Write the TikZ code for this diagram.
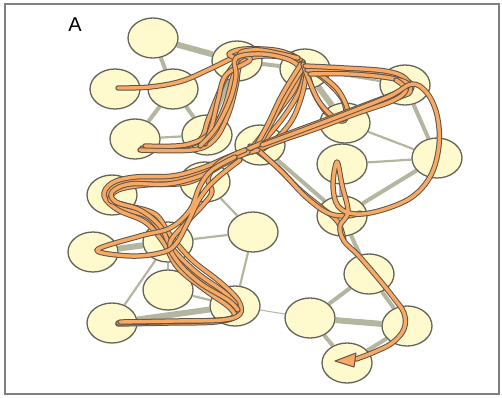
\documentclass[tikz,border=0pt]{standalone}
\usepackage{fontspec}
\setmainfont{Liberation Sans}
\usetikzlibrary{shapes.geometric,backgrounds}
\definecolor{nodefill}{RGB}{255,250,205}
\definecolor{nodeline}{RGB}{100,100,90}
\definecolor{edgecol}{RGB}{180,182,160}
\definecolor{trajfill}{RGB}{248,170,100}
\definecolor{trajline}{RGB}{95,82,72}
\definecolor{framecol}{RGB}{128,128,128}
\begin{document}
\begin{tikzpicture}[x=1pt,y=-1pt,
  res/.style={ellipse, draw=nodeline, line width=1.3pt, fill=nodefill, minimum width=50pt, minimum height=40pt, inner sep=0pt},
  ethick/.style={draw=edgecol, line width=6pt},
  emed/.style={draw=edgecol, line width=4pt},
  ethin/.style={draw=edgecol, line width=2.2pt},
  evthin/.style={draw=edgecol, line width=1pt},
  traj/.style={draw=trajline, line width=1pt, double=trajfill, double distance=3.4pt, line cap=round, line join=round},
  sm/.style={smooth, tension=0.6}
]
\useasboundingbox (0,0) rectangle (502,397);
\draw[framecol, line width=2pt] (5,4) rectangle (499,394);
\node[font=\fontsize{20}{20}\selectfont] (lab) at (75,25) {A};

% residues
\node[res] (n1) at (153,38) {};
\node[res] (n2) at (237,61) {};
\node[res] (n3) at (115,89) {};
\node[res] (n4) at (173,89) {};
\node[res] (n5) at (135,139) {};
\node[res] (n6) at (207,135) {};
\node[res] (n7) at (305,69) {};
\node[res] (n8) at (405,85) {};
\node[res] (n9) at (345,123) {};
\node[res] (n10) at (437,158) {};
\node[res] (n11) at (342,164) {};
\node[res] (n12) at (260,145) {};
\node[res] (n13) at (342,216) {};
\node[res] (n14) at (369,274) {};
\node[res] (n15) at (310,318) {};
\node[res] (n16) at (407,326) {};
\node[res] (n17) at (347,363) {};
\node[res] (n18) at (253,232) {};
\node[res] (n19) at (93,252) {};
\node[res] (n20) at (168,242) {};
\node[res] (n21) at (168,290) {};
\node[res] (n22) at (112,323) {};
\node[res] (n23) at (235,306) {};
\node[res] (n24) at (112,195) {};
\node[res] (n25) at (205,182) {};

% contacts
\begin{scope}[on background layer]
\draw[ethick] (n1) -- (n2);
\draw[emed] (n1) -- (n4);
\draw[emed] (n4) -- (n5);
\draw[emed] (n4) -- (n6);
\draw[ethin] (n5) -- (n6);
\draw[emed] (n6) -- (n2);
\draw[emed] (n2) -- (n7);
\draw[ethick] (n7) -- (n9);
\draw[ethin] (n7) -- (n8);
\draw[emed] (n8) -- (n10);
\draw[ethin] (n9) -- (n10);
\draw[ethin] (n11) -- (n10);
\draw[emed] (n10) -- (n13);
\draw[ethick] (n11) -- (n13);
\draw[emed] (n12) -- (n13);
\draw[emed] (n13) -- (n14);
\draw[emed] (n14) -- (n15);
\draw[emed] (n14) -- (n16);
\draw[ethick] (n15) -- (n16);
\draw[emed] (n15) -- (n17);
\draw[emed] (n16) -- (n17);
\draw[evthin] (n23) -- (n15);
\draw[ethin] (n25) -- (n18);
\draw[ethin] (n20) -- (n18);
\draw[ethin] (n18) -- (n23);
\draw[ethick] (n19) -- (n20);
\draw[ethin] (n20) -- (n21);
\draw[ethin] (n20) -- (n22);
\draw[ethick] (n22) -- (n23);
\draw[ethin] (n21) -- (n23);
\end{scope}

% trajectories
\draw[traj] plot[sm] coordinates {(118,88) (150,87) (182,81) (212,68) (238,56) (265,51) (292,55) (306,68)};
\draw[traj] plot[sm] coordinates {(142,148) (178,147) (200,140) (208,120) (218,95) (230,70) (245,57) (270,53) (295,57) (307,70)};
\draw[traj] plot[sm] coordinates {(145,146) (185,145) (210,133) (224,108) (232,80) (237,61) (229,54) (245,49) (280,51) (303,62)};
\draw[traj] plot[sm] coordinates {(140,150) (192,150) (214,140) (228,115) (236,86) (240,65) (254,57) (282,57) (304,66)};
\draw[traj] plot[sm] coordinates {(205,144) (212,125) (218,100) (226,75) (250,60) (240,53) (260,50) (298,58)};
\draw[traj] plot[sm] coordinates {(200,146) (216,128) (230,100) (236,76) (236,58) (262,54) (290,60) (302,70)};

\draw[traj] plot[sm] coordinates {(306,68) (300,90) (285,115) (268,136) (255,150)};
\draw[traj] plot[sm] coordinates {(303,62) (295,88) (278,112) (262,135) (250,150)};
\draw[traj] plot[sm] coordinates {(307,70) (302,95) (292,120) (275,140) (258,152)};
\draw[traj] plot[sm] coordinates {(304,66) (288,92) (274,118) (262,140)};
\draw[traj] plot[sm] coordinates {(301,64) (282,95) (268,124) (256,146)};

\draw[traj] plot[sm] coordinates {(306,68) (315,95) (330,116) (345,120) (343,100) (325,80) (310,70)};
\draw[traj] plot[sm] coordinates {(303,64) (318,100) (337,119) (348,113) (338,90) (318,73)};
\draw[traj] plot[sm] coordinates {(307,70) (340,71) (378,72) (400,77) (412,86) (402,96) (368,108) (330,122) (292,136) (260,147)};
\draw[traj] plot[sm] coordinates {(305,66) (345,68) (385,71) (405,78) (410,92) (395,98) (360,111) (322,125) (285,139) (255,150)};
\draw[traj] plot[sm] coordinates {(310,74) (350,74) (390,78) (408,84) (398,92) (365,105) (328,119) (290,133) (262,144)};
\draw[traj] plot[sm] coordinates {(396,80) (406,90) (392,101) (355,114) (318,128) (280,141) (252,152)};

\draw[traj] plot[sm] coordinates {(250,146) (275,165) (300,190) (322,208) (338,222) (344,241)};
\draw[traj] plot[sm] coordinates {(258,150) (282,172) (306,197) (328,213) (347,216) (360,213)};

\draw[traj] plot[sm] coordinates {(258,150) (232,158) (205,170) (175,180) (140,180) (115,186) (107,198) (120,208) (148,217) (165,238) (183,263) (210,285) (233,303) (236,316) (215,322) (170,323) (118,324)};
\draw[traj] plot[sm] coordinates {(252,148) (228,157) (202,168) (172,176) (135,177) (112,183) (104,196) (118,210) (145,222) (163,242) (178,268) (205,290) (230,308) (232,318) (200,321) (150,322) (118,323)};
\draw[traj] plot[sm] coordinates {(262,143) (236,155) (210,172) (185,183) (145,185) (118,190) (110,200) (125,205) (155,214) (170,235) (192,260) (220,282) (238,300) (240,314) (222,320) (175,321) (120,322)};
\draw[traj] plot[sm] coordinates {(248,152) (224,164) (200,176) (168,184) (130,184) (112,192) (116,202) (140,210) (160,226) (172,248) (196,272) (224,292) (236,304)};
\draw[traj] plot[sm] coordinates {(245,150) (220,162) (208,178) (212,192) (203,205) (187,222) (170,243) (178,262) (200,283) (228,300) (238,310)};
\draw[traj] plot[sm] coordinates {(235,157) (212,170) (200,186) (190,210) (170,228) (140,236) (97,250) (130,256) (160,253) (175,245) (188,222) (200,198) (215,180) (240,160)};

\draw[traj] plot[sm] coordinates {(262,145) (300,131) (345,114) (390,96) (412,84) (427,93) (437,115) (439,145) (431,175) (412,197) (382,210) (355,214) (338,206) (333,185) (337,162) (342,185) (348,212) (340,226) (344,241) (358,255) (377,277) (393,297) (404,313) (404,329) (392,343) (372,353) (356,359)};
\draw[draw=trajline, fill=trajfill, line width=1pt, line join=round] (335,361) -- (356,353) -- (354,367) -- cycle;
\end{tikzpicture}
\end{document}
